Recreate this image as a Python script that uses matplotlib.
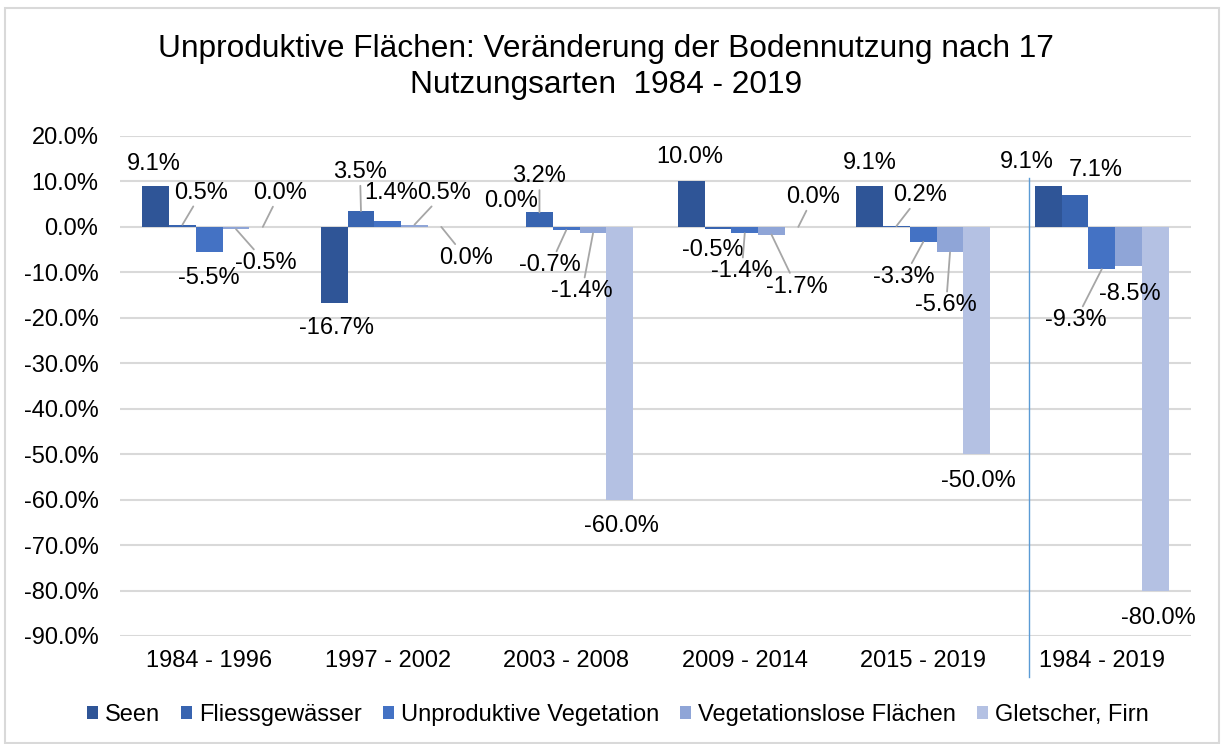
import numpy as np
import matplotlib
matplotlib.use('Agg')
import matplotlib.pyplot as plt
from matplotlib.patches import Rectangle
from matplotlib.ticker import FuncFormatter

plt.rcParams['font.family'] = ['Liberation Sans', 'DejaVu Sans']

# Daten
perioden = ['1984 - 1996', '1997 - 2002', '2003 - 2008', '2009 - 2014', '2015 - 2019', '1984 - 2019']
seen = [9.1, -16.7, 0.0, 10.0, 9.1, 9.1]
fliess = [0.5, 3.5, 3.2, -0.5, 0.2, 7.1]
unprod = [-5.5, 1.4, -0.7, -1.4, -3.3, -9.3]
veglos = [-0.5, 0.5, -1.4, -1.7, -5.6, -8.5]
gletscher = [0.0, 0.0, -60.0, 0.0, -50.0, -80.0]

serien = ['Seen', 'Fliessgewässer', 'Unproduktive Vegetation',
          'Vegetationslose Flächen', 'Gletscher, Firn']
daten = [seen, fliess, unprod, veglos, gletscher]
farben = ['#2F5597', '#3864B0', '#4472C4', '#8FA5D7', '#B4C1E3']

# Label-Versatz in Pixel (dx, dy, Führungslinie) je Serie und Periode
label_pos = [
    [(-2, 22, 0), (2, -25, 0), (-2, 26, 0), (-1, 24, 0), (0, 23, 0), (-21, 24, 0)],
    [(19, 32, 1), (-1, 39, 1), (0, 36, 1), (-5, -21, 0), (24, 31, 1), (21, 25, 0)],
    [(0, -26, 0), (3, 28, 0), (-16, -35, 1), (-3, -38, 1), (-19, -35, 1), (-26, -51, 1)],
    [(30, -34, 1), (30, 32, 1), (-11, -58, 1), (25, -52, 1), (-4, -53, 1), (1, -28, 0)],
    [(17, 34, 1), (25, -31, 1), (2, -26, 0), (15, 30, 1), (2, -27, 0), (3, -27, 0)],
]

fs = 17
fig = plt.figure(figsize=(12.22, 7.44), dpi=100)
ax = fig.add_axes([120 / 1222, 108 / 744, 1071 / 1222, 500 / 744])

x = np.arange(len(perioden))
w = 0.15
for j, (name, werte) in enumerate(zip(serien, daten)):
    pos = x + (j - 2) * w
    ax.bar(pos, werte, w, color=farben[j], label=name, zorder=2)
    for k, (xp, v) in enumerate(zip(pos, werte)):
        dx, dy, leader = label_pos[j][k]
        arrow = dict(arrowstyle='-', color='#A6A6A6', lw=1.3,
                     shrinkA=0, shrinkB=0) if leader else None
        ax.annotate(f'{v:.1f}%', xy=(xp, v), xytext=(dx, dy),
                    textcoords='offset pixels', ha='center', va='center',
                    fontsize=fs, color='#000000', arrowprops=arrow, zorder=3)

ax.set_xlim(-0.5, 5.5)
ax.set_ylim(-90, 20)
ax.set_yticks(range(-90, 21, 10))
ax.yaxis.set_major_formatter(FuncFormatter(lambda v, p: f'{v:.1f}%'))
ax.set_xticks(x)
ax.set_xticklabels(perioden)
ax.grid(axis='y', color='#D9D9D9', lw=1.5)
ax.set_axisbelow(True)
for s in ax.spines.values():
    s.set_visible(False)
ax.tick_params(axis='y', length=0, labelsize=fs, pad=15.5)
ax.tick_params(axis='x', length=0, labelsize=fs, pad=10)

# Trennlinie vor Gesamtperiode
ax.axvline(4.59, ymin=-0.082, ymax=0.916, color='#5B9BD5', lw=1, clip_on=False)

fig.text(0.496, 1 - 67 / 744,
         'Unproduktive Flächen: Veränderung der Bodennutzung nach 17\nNutzungsarten  1984 - 2019',
         ha='center', va='center', fontsize=22.8, linespacing=1.27)

fig.legend(loc='center', bbox_to_anchor=(0.5 + 7 / 1222, 1 - 715 / 744), ncol=5, frameon=False,
           fontsize=fs, handlelength=0.45, handleheight=0.45, handletextpad=0.3,
           columnspacing=0.9)

fig.patches.append(Rectangle((5 / 1222, 1 / 744), 1214 / 1222, 735 / 744,
                             transform=fig.transFigure, fill=False,
                             edgecolor='#D9D9D9', lw=1.5))

plt.savefig('out.png', dpi=100)
